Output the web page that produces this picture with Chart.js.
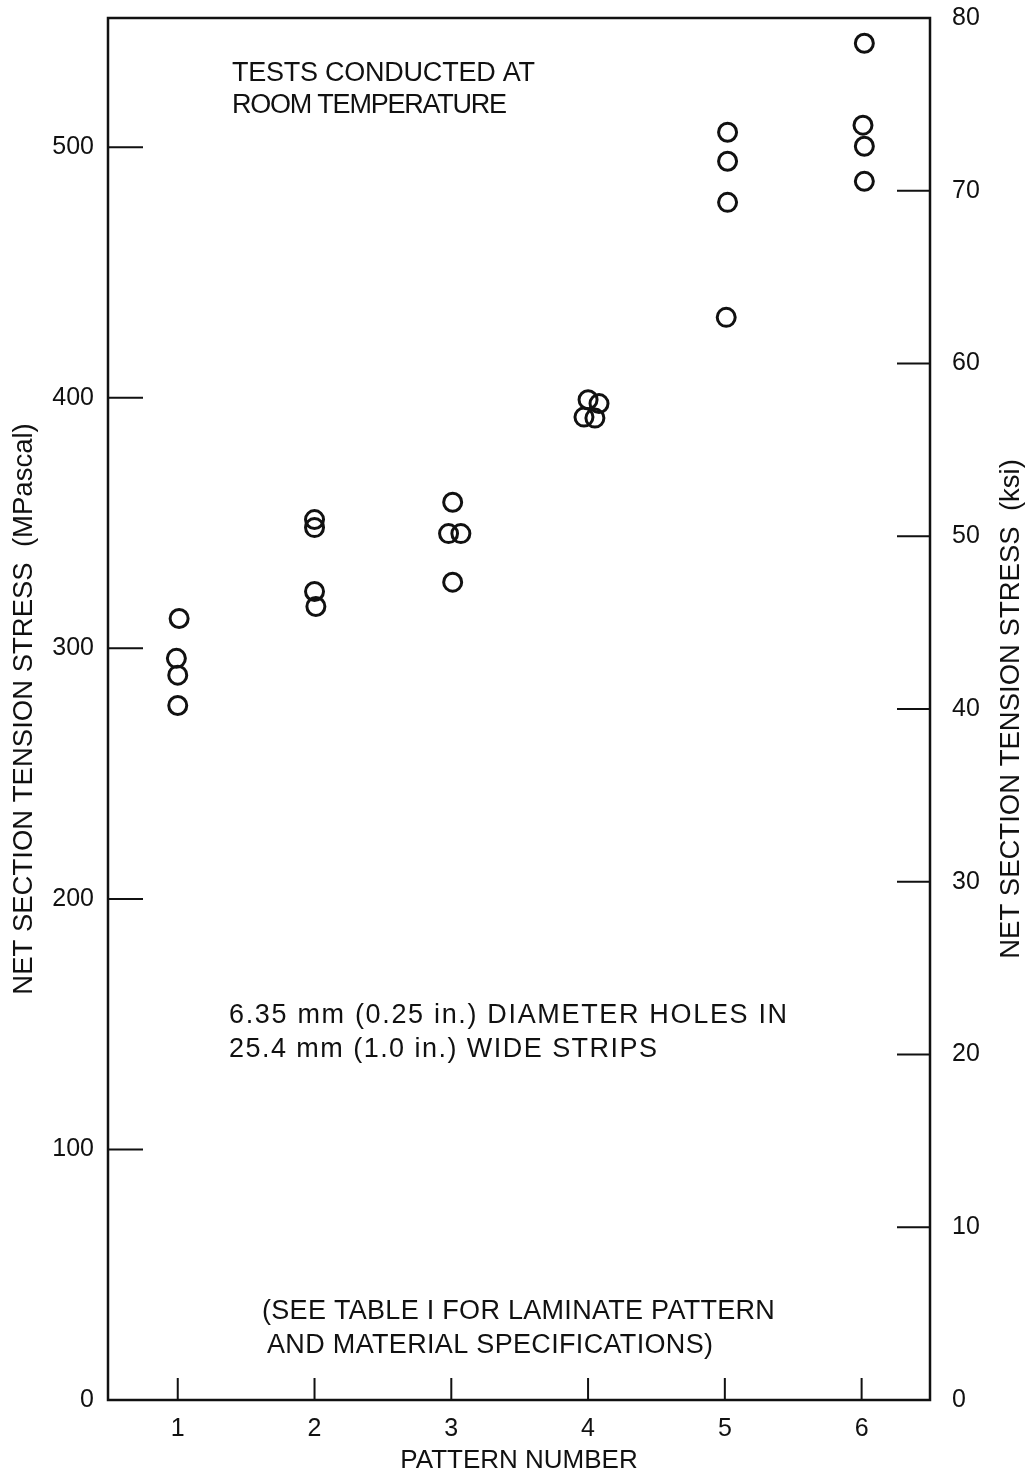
<!DOCTYPE html>
<html>
<head>
<meta charset="utf-8">
<title>Net section tension stress vs pattern number</title>
<script src="https://cdn.jsdelivr.net/npm/chart.js@4.4.3/dist/chart.umd.min.js"></script>
<style>
  html, body { margin: 0; padding: 0; background: #fff; }
  #chart { display: block; }
</style>
</head>
<body>
<canvas id="chart" width="1031" height="1474"></canvas>
<script>
(function () {
  "use strict";

  /* ── Data ─────────────────────────────────────────────────────────── */
  const PATTERNS = [1, 2, 3, 4, 5, 6];
  const MPA_TICKS = [0, 100, 200, 300, 400, 500];
  const KSI_TICKS = [0, 10, 20, 30, 40, 50, 60, 70, 80];

  // one entry per specimen; x is the pattern number (nudged where circles overlap)
  const PATTERN_X = [
    1.01, 0.99, 1.00, 1.00,
    2.00, 2.00, 2.00, 2.01,
    3.01, 2.98, 3.07, 3.01,
    4.00, 4.08, 3.97, 4.05,
    5.02, 5.02, 5.02, 5.01,
    6.02, 6.01, 6.02, 6.02,
  ];
  const STRESS_MPA = [
    311.9, 296.0, 289.3, 277.2,
    351.4, 348.2, 322.7, 316.7,
    358.3, 345.8, 345.8, 326.4,
    399.2, 397.7, 392.3, 391.9,
    506.0, 494.4, 478.0, 432.1,
    541.5, 508.8, 500.4, 486.4,
  ];

  const KSI_TO_MPA = 6.894757;
  const KSI_MAX = 80;

  /* ── Styling ──────────────────────────────────────────────────────── */
  const INK  = "#111";
  const FONT = "'Liberation Sans', Arial, sans-serif";
  const TITLE_FONT = { family: FONT, size: 27.5, lineHeight: 1 };
  const TICK_FONT  = { family: FONT, size: 25 };

  // w = width of the lettered line in the original, used to match its spacing
  const NOTES = [
    { text: "TESTS CONDUCTED AT",                   x: 232, y: 74,   w: 303 },
    { text: "ROOM TEMPERATURE",                     x: 232, y: 106,  w: 275 },
    { text: "6.35 mm (0.25 in.) DIAMETER HOLES IN", x: 229, y: 1016, w: 558 },
    { text: "25.4 mm (1.0 in.) WIDE STRIPS",        x: 229, y: 1050, w: 428 },
    { text: "(SEE TABLE I FOR LAMINATE PATTERN",    x: 262, y: 1312, w: 513 },
    { text: "AND MATERIAL SPECIFICATIONS)",         x: 267, y: 1346, w: 446 },
  ];

  const points = PATTERN_X.map((x, i) => ({ x: x, y: STRESS_MPA[i] }));

  // keep the plot box where the original has it: no extra room for end labels
  function noEdgePadding(s) {
    s.paddingTop = 0;
    s.paddingBottom = 0;
    s.paddingLeft = 0;
    s.paddingRight = 0;
  }

  /* ── Frame, inner ticks, notes, right-hand title ──────────────────── */
  const framePlugin = {
    id: "frame",
    afterDraw(chart) {
      const { ctx, chartArea: a, scales } = chart;
      ctx.save();
      ctx.strokeStyle = INK;
      ctx.lineWidth = 2.5;
      ctx.strokeRect(a.left, a.top, a.right - a.left, a.bottom - a.top);

      ctx.lineWidth = 2;
      ctx.beginPath();
      scales.y.ticks.forEach((t) => {
        const py = scales.y.getPixelForValue(t.value);
        ctx.moveTo(a.left, py);
        ctx.lineTo(a.left + 35, py);
      });
      scales.y2.ticks.forEach((t) => {
        const py = scales.y2.getPixelForValue(t.value);
        ctx.moveTo(a.right, py);
        ctx.lineTo(a.right - 33, py);
      });
      scales.x.ticks.forEach((t) => {
        const px = scales.x.getPixelForValue(t.value);
        ctx.moveTo(px, a.bottom);
        ctx.lineTo(px, a.bottom - 22);
      });
      ctx.stroke();

      ctx.fillStyle = INK;
      ctx.font = `27px ${FONT}`;
      ctx.textAlign = "left";
      ctx.textBaseline = "middle";
      NOTES.forEach((n) => {
        ctx.letterSpacing = "0px";
        const natural = ctx.measureText(n.text).width;
        ctx.letterSpacing = ((n.w - natural) / (n.text.length - 1)).toFixed(2) + "px";
        ctx.fillText(n.text, n.x, n.y);
      });
      ctx.letterSpacing = "0px";

      // right axis title reads bottom-to-top, like the left one
      ctx.font = `${TITLE_FONT.size}px ${FONT}`;
      ctx.translate(1011, (a.top + a.bottom) / 2);
      ctx.rotate(-Math.PI / 2);
      ctx.textAlign = "center";
      ctx.fillText("NET SECTION TENSION STRESS  (ksi)", 0, 0);
      ctx.restore();
    },
  };

  /* ── Chart ────────────────────────────────────────────────────────── */
  new Chart(document.getElementById("chart"), {
    type: "scatter",
    data: {
      datasets: [
        {
          data: points,
          pointStyle: "circle",
          pointRadius: 9,
          pointHoverRadius: 9,
          borderWidth: 3,
          borderColor: INK,
          backgroundColor: "rgba(0,0,0,0)",
        },
      ],
    },
    options: {
      responsive: false,
      animation: false,
      devicePixelRatio: 1,
      layout: { padding: { top: 18, right: 0, bottom: 0, left: 0 } },
      plugins: { legend: { display: false }, tooltip: { enabled: false } },
      scales: {
        x: {
          type: "linear",
          position: "bottom",
          min: 0.49,
          max: 6.5,
          afterBuildTicks: (s) => { s.ticks = PATTERNS.map((v) => ({ value: v })); },
          afterFit: (s) => { s.height = 74; noEdgePadding(s); },
          grid: { display: false, drawTicks: false },
          border: { display: false },
          ticks: { color: INK, font: TICK_FONT, padding: 14, maxRotation: 0, autoSkip: false },
          title: {
            display: true,
            text: "PATTERN NUMBER",
            color: INK,
            font: { family: FONT, size: 26, lineHeight: 1 },
            padding: { top: 0, bottom: 0 },
          },
        },
        y: {
          type: "linear",
          position: "left",
          min: 0,
          max: KSI_MAX * KSI_TO_MPA,
          afterBuildTicks: (s) => { s.ticks = MPA_TICKS.map((v) => ({ value: v })); },
          afterFit: (s) => { s.width = 108; noEdgePadding(s); },
          grid: { display: false, drawTicks: false },
          border: { display: false },
          ticks: { color: INK, font: TICK_FONT, padding: 14 },
          title: {
            display: true,
            text: "NET SECTION TENSION STRESS  (MPascal)",
            color: INK,
            font: TITLE_FONT,
            padding: { top: 11, bottom: 0 },
          },
        },
        y2: {
          type: "linear",
          position: "right",
          min: 0,
          max: KSI_MAX,
          afterBuildTicks: (s) => { s.ticks = KSI_TICKS.map((v) => ({ value: v })); },
          afterFit: (s) => { s.width = 101; noEdgePadding(s); },
          grid: { display: false, drawTicks: false },
          border: { display: false },
          ticks: { color: INK, font: TICK_FONT, padding: 22 },
        },
      },
    },
    plugins: [framePlugin],
  });
})();
</script>
</body>
</html>
